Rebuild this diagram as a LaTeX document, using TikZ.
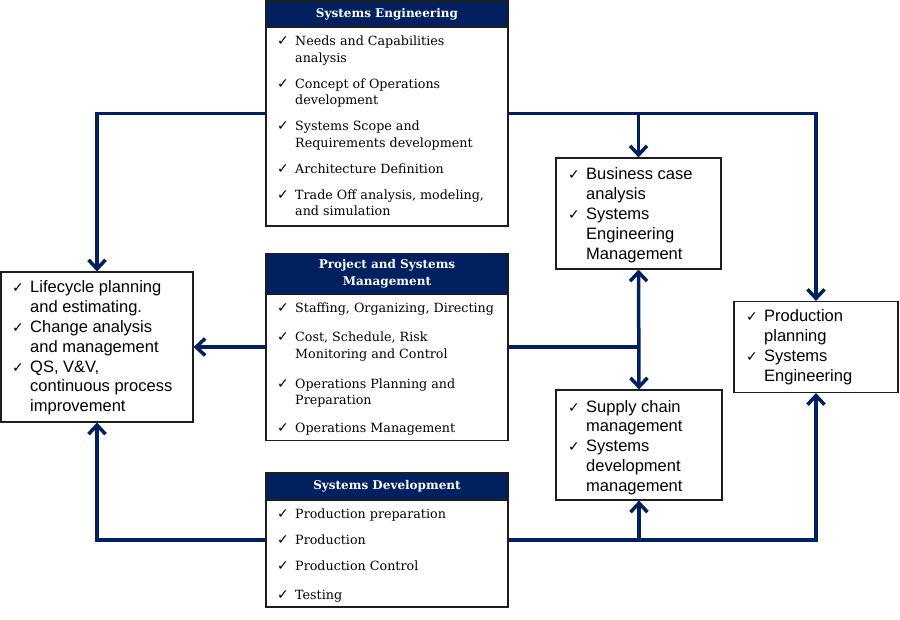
\documentclass[tikz,border=0pt]{standalone}
\usepackage{fontspec}
\setmainfont{DejaVu Serif}
\setsansfont{Liberation Sans}
\newfontfamily\symfont{DejaVu Sans}
\usepackage{xcolor}
\usetikzlibrary{
  arrows.meta,
  positioning
}
\definecolor{xnavy}{RGB}{0,32,96}
\definecolor{xframe}{RGB}{30,30,30}
\newcommand{\ck}{\makebox[18pt][l]{\symfont\fontsize{14}{14}\selectfont ✓}}

\begin{document}
\begin{tikzpicture}[x=1pt, y=-1pt,
  box/.style={draw=xframe, fill=white, line width=1.2pt, inner sep=0pt},
  head/.style={draw=xframe, fill=xnavy, line width=1.2pt, text=white, align=center,
               font=\bfseries\fontsize{12}{16.5}\selectfont, inner sep=0pt, minimum width=242},
  items/.style={anchor=base west, inner sep=0pt, font=\fontsize{12.7}{16.5}\selectfont},
  notes/.style={anchor=base west, inner sep=0pt, font=\sffamily\fontsize{16.5}{19.8}\selectfont},
  arr/.style={-{Straight Barb[length=9pt,width=17pt]}, draw=xnavy, line width=3.5pt},
  twoarr/.style={{Straight Barb[length=9pt,width=17pt]}-{Straight Barb[length=9pt,width=17pt]},
                 draw=xnavy, line width=3.5pt},
  link/.style={draw=xnavy, line width=3.5pt}
]
  \useasboundingbox[fill=white] (0,0) rectangle (900,620);

  % center column
  \node[box, minimum width=242, minimum height=225] (se) at (387,113.5) {};
  \node[head, anchor=north, minimum height=26] (sehead) at (se.north) {Systems Engineering};
  \node[items] (seitems) at (277,46) {\begin{tabular}[t]{@{}l@{}l@{}}
    \ck & Needs and Capabilities\\
        & analysis\\[9.5pt]
    \ck & Concept of Operations\\
        & development\\[9.5pt]
    \ck & Systems Scope and\\
        & Requirements development\\[9.5pt]
    \ck & Architecture Definition\\[9.5pt]
    \ck & Trade Off analysis, modeling,\\
        & and simulation
  \end{tabular}};

  \node[box, minimum width=242, minimum height=187] (psm) at (387,347) {};
  \node[head, anchor=north, minimum height=41] (psmhead) at (psm.north) {Project and Systems\\Management};
  \node[items] (psmitems) at (277,313) {\begin{tabular}[t]{@{}l@{}l@{}}
    \ck & Staffing, Organizing, Directing\\[12.5pt]
    \ck & Cost, Schedule, Risk\\
        & Monitoring and Control\\[13.5pt]
    \ck & Operations Planning and\\
        & Preparation\\[11.5pt]
    \ck & Operations Management
  \end{tabular}};

  \node[box, minimum width=242, minimum height=134] (sd) at (387,540) {};
  \node[head, anchor=north, minimum height=27] (sdhead) at (sd.north) {Systems Development};
  \node[items] (sditems) at (277,518) {\begin{tabular}[t]{@{}l@{}l@{}}
    \ck & Production preparation\\[10pt]
    \ck & Production\\[9.5pt]
    \ck & Production Control\\[12.5pt]
    \ck & Testing
  \end{tabular}};

  % side boxes
  \node[box, minimum width=192, minimum height=150] (life) at (97,347) {};
  \node[notes] (lifetext) at (12,293) {\begin{tabular}[t]{@{}l@{}l@{}}
    \ck & Lifecycle planning\\
        & and estimating.\\
    \ck & Change analysis\\
        & and management\\
    \ck & QS, V\&V,\\
        & continuous process\\
        & improvement
  \end{tabular}};

  \node[box, minimum width=165, minimum height=111] (biz) at (638.5,213.5) {};
  \node[notes] (biztext) at (568,180) {\begin{tabular}[t]{@{}l@{}l@{}}
    \ck & Business case\\
        & analysis\\
    \ck & Systems\\
        & Engineering\\
        & Management
  \end{tabular}};

  \node[box, minimum width=166, minimum height=110] (supply) at (639,445) {};
  \node[notes] (supplytext) at (568,412) {\begin{tabular}[t]{@{}l@{}l@{}}
    \ck & Supply chain\\
        & management\\
    \ck & Systems\\
        & development\\
        & management
  \end{tabular}};

  \node[box, minimum width=164, minimum height=91] (prod) at (816,347) {};
  \node[notes] (prodtext) at (746,322) {\begin{tabular}[t]{@{}l@{}l@{}}
    \ck & Production\\
        & planning\\
    \ck & Systems\\
        & Engineering
  \end{tabular}};

  % connectors
  \draw[arr] (se.west) -| (life.north);
  \draw[arr] (se.east) -| (prod.north);
  \draw[arr] (se.east -| biz.north) -- (biz.north);
  \draw[arr] (psm.west) -- (life.east);
  \draw[link] (psm.east) -- (psm.east -| biz.south);
  \draw[twoarr] (biz.south) -- (supply.north);
  \draw[arr] (sd.west) -| (life.south);
  \draw[arr] (sd.east) -| (prod.south);
  \draw[arr] (sd.east -| supply.south) -- (supply.south);
\end{tikzpicture}
\end{document}
